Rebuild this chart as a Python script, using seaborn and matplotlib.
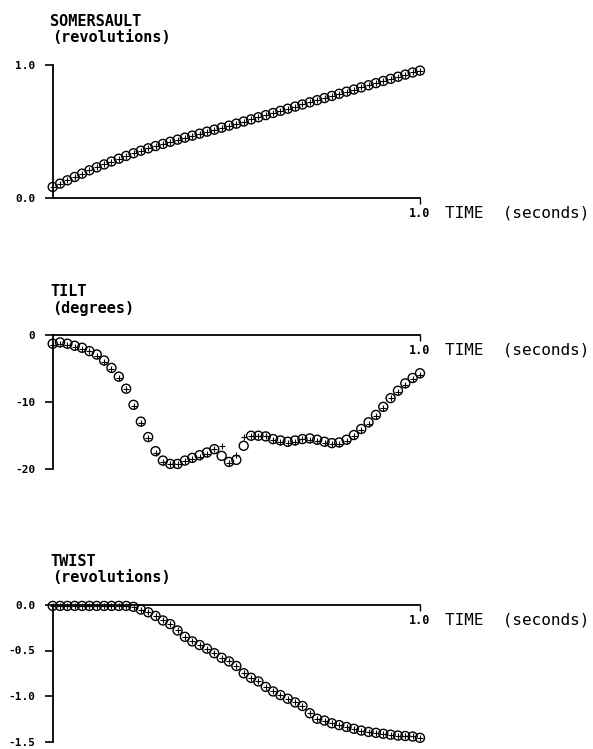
import matplotlib
matplotlib.use("Agg")
import matplotlib.pyplot as plt
import seaborn as sns
import pandas as pd

# ---------------- data ----------------
time = [0.00, 0.02, 0.04, 0.06, 0.08, 0.10, 0.12, 0.14, 0.16, 0.18,
        0.20, 0.22, 0.24, 0.26, 0.28, 0.30, 0.32, 0.34, 0.36, 0.38,
        0.40, 0.42, 0.44, 0.46, 0.48, 0.50, 0.52, 0.54, 0.56, 0.58,
        0.60, 0.62, 0.64, 0.66, 0.68, 0.70, 0.72, 0.74, 0.76, 0.78,
        0.80, 0.82, 0.84, 0.86, 0.88, 0.90, 0.92, 0.94, 0.96, 0.98, 1.00]

somersault = [0.085, 0.110, 0.135, 0.160, 0.185, 0.210, 0.232, 0.254, 0.276, 0.297,
              0.318, 0.338, 0.357, 0.375, 0.392, 0.408, 0.424, 0.440, 0.455, 0.470,
              0.485, 0.500, 0.515, 0.530, 0.545, 0.560, 0.576, 0.592, 0.608, 0.624,
              0.640, 0.656, 0.672, 0.688, 0.704, 0.720, 0.736, 0.752, 0.768, 0.784,
              0.800, 0.816, 0.832, 0.848, 0.864, 0.880, 0.896, 0.912, 0.928, 0.944, 0.958]

tilt = [-1.3, -1.1, -1.3, -1.6, -1.9, -2.4, -2.9, -3.8, -4.9, -6.2,
        -8.0, -10.4, -12.9, -15.2, -17.3, -18.7, -19.2, -19.2, -18.7, -18.3,
        -17.9, -17.5, -17.0, -18.0, -18.9, -18.6, -16.5, -15.0, -15.0, -15.1,
        -15.5, -15.7, -15.9, -15.7, -15.5, -15.4, -15.6, -15.9, -16.1, -16.0,
        -15.6, -14.9, -14.0, -13.0, -11.9, -10.7, -9.4, -8.3, -7.2, -6.4, -5.7]

tilt_plus = [-1.5, -1.3, -1.5, -1.8, -2.1, -2.4, -3.1, -4.0, -5.1, -6.4,
             -8.0, -10.6, -13.1, -15.4, -17.5, -18.9, -19.2, -19.2, -18.7, -18.5,
             -18.1, -17.7, -17.0, -16.6, -19.1, -17.9, -15.2, -15.0, -15.0, -15.1,
             -15.7, -15.9, -16.1, -15.9, -15.5, -15.6, -15.8, -16.1, -16.3, -16.2,
             -15.8, -15.1, -14.2, -13.2, -12.1, -10.9, -9.4, -8.5, -7.4, -6.6, -5.9]

twist = [-0.01, -0.01, -0.01, -0.01, -0.01, -0.01, -0.01, -0.01, -0.01, -0.01,
         -0.01, -0.02, -0.05, -0.08, -0.12, -0.17, -0.21, -0.28, -0.35, -0.40,
         -0.44, -0.48, -0.53, -0.58, -0.62, -0.67, -0.75, -0.80, -0.84, -0.90,
         -0.95, -0.99, -1.03, -1.07, -1.11, -1.19, -1.25, -1.27, -1.30, -1.32,
         -1.34, -1.36, -1.38, -1.395, -1.405, -1.415, -1.425, -1.435, -1.44, -1.445, -1.46]

panels = [
    dict(title="SOMERSAULT", unit="(revolutions)", y=somersault, yplus=somersault,
         ylim=(0.0, 1.0), yticks=[0.0, 1.0], yticklabels=["0.0", "1.0"], axis_top=False),
    dict(title="TILT", unit="(degrees)", y=tilt, yplus=tilt_plus,
         ylim=(-20, 0), yticks=[0, -10, -20], yticklabels=["0", "-10", "-20"], axis_top=True),
    dict(title="TWIST", unit="(revolutions)", y=twist, yplus=twist,
         ylim=(-1.5, 0.0), yticks=[0.0, -0.5, -1.0, -1.5],
         yticklabels=["0.0", "-0.5", "-1.0", "-1.5"], axis_top=True),
]

sns.set_style("white")
mono = ["DejaVu Sans Mono", "DejaVu Sans"]
plt.rcParams["font.family"] = mono

W, H = 593, 749
fig = plt.figure(figsize=(W / 100, H / 100), dpi=100)

# pixel geometry of the three axes: (left, right, top, bottom)
boxes = [(52.7, 420, 65, 198.3), (52.7, 420, 335, 469.3), (52.7, 420, 605, 741.5)]

for p, (l, r, t, b) in zip(panels, boxes):
    ax = fig.add_axes([l / W, 1 - b / H, (r - l) / W, (b - t) / H])
    ax.patch.set_visible(False)
    df = pd.DataFrame({"time": time, "value": p["y"], "plus": p["yplus"]})
    sns.scatterplot(data=df, x="time", y="value", ax=ax, marker="o", s=42,
                    color="black", facecolors="none", edgecolors="black",
                    linewidths=1.0, clip_on=False, legend=False)
    sns.scatterplot(data=df, x="time", y="plus", ax=ax, marker="+", s=22,
                    color="black", linewidths=0.8, clip_on=False, legend=False)
    ax.set_xlim(0, 1.0)
    ax.set_ylim(*p["ylim"])
    ax.set_xlabel("")
    ax.set_ylabel("")
    for s in ["top", "right"]:
        ax.spines[s].set_visible(False)
    for s in ["left", "bottom"]:
        ax.spines[s].set_color("black")
        ax.spines[s].set_linewidth(1.3)
    if p["axis_top"]:
        ax.spines["bottom"].set_position(("data", 0))
    ax.set_xticks([1.0])
    ax.set_xticklabels(["1.0"])
    ax.set_yticks(p["yticks"])
    ax.set_yticklabels(p["yticklabels"])
    ax.tick_params(axis="x", direction="out", length=4, width=1.0, pad=2.5,
                   labelsize=8.5, colors="black", bottom=True)
    ax.tick_params(axis="y", direction="out", length=6, width=1.2, pad=6.5,
                   labelsize=8, colors="black", left=True)
    for lab in ax.get_xticklabels() + ax.get_yticklabels():
        lab.set_fontweight("bold")
        lab.set_family(mono)
    ax.annotate("TIME  (seconds)", xy=(1.0, 0), xycoords="data",
                xytext=(18, -10.5), textcoords="offset points",
                ha="left", va="center", fontsize=11.5, family=mono, color="black",
                annotation_clip=False)
    fig.text(50 / W, 1 - (t - 44) / H, p["title"], ha="left", va="center",
             fontsize=11, fontweight="bold", family=mono, color="black")
    fig.text(52 / W, 1 - (t - 27) / H, p["unit"], ha="left", va="center",
             fontsize=11, fontweight="bold", family=mono, color="black")

fig.savefig("out.png", dpi=100)
